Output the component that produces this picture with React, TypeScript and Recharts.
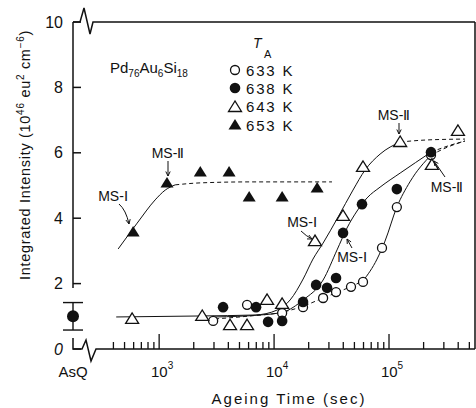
import React from 'react'
import { ComposedChart, XAxis, YAxis, Scatter, Line, ErrorBar } from 'recharts'

// axis ends (AsQ sits at the left end of the time axis)
const X_MIN = 178
const X_MAX = 560000

const majorTimes = [1e3, 1e4, 1e5]
const minorTimes = [
  400, 500, 600, 700, 800, 900,
  2000, 3000, 4000, 5000, 6000, 7000, 8000, 9000,
  20000, 30000, 40000, 50000, 60000, 70000, 80000, 90000,
  200000, 300000, 400000, 500000,
]
const yTicks = [0, 2, 4, 6, 8, 10]
const rightTicks = [2, 4, 6, 8]

// measured points, t in seconds
const k633 = [
  { t: 2950, v: 0.86 }, { t: 5820, v: 1.35 }, { t: 11750, v: 1.1 }, { t: 17860, v: 1.28 },
  { t: 26700, v: 1.56 }, { t: 34600, v: 1.74 }, { t: 46700, v: 1.9 }, { t: 59400, v: 2.05 },
  { t: 86900, v: 3.09 }, { t: 117000, v: 4.34 }, { t: 232000, v: 5.93 },
]
const k638 = [
  { t: 3600, v: 1.28 }, { t: 6970, v: 1.28 }, { t: 8870, v: 0.83 }, { t: 11750, v: 0.86 },
  { t: 17860, v: 1.44 }, { t: 23200, v: 1.96 }, { t: 28900, v: 1.87 }, { t: 34600, v: 2.17 },
  { t: 39800, v: 3.55 }, { t: 58200, v: 4.43 }, { t: 117000, v: 4.89 }, { t: 232000, v: 6.02 },
]
const k643 = [
  { t: 582, v: 0.92 }, { t: 2370, v: 1.01 }, { t: 4140, v: 0.73 }, { t: 5820, v: 0.73 },
  { t: 8690, v: 1.5 }, { t: 11750, v: 1.38 }, { t: 22700, v: 3.3 }, { t: 39800, v: 4.07 },
  { t: 59400, v: 5.57 }, { t: 125000, v: 6.33 }, { t: 236000, v: 5.63 }, { t: 398000, v: 6.67 },
]
const k653 = [
  { t: 594, v: 3.58 }, { t: 1170, v: 5.08 }, { t: 2280, v: 5.41 }, { t: 4060, v: 5.41 },
  { t: 6070, v: 4.65 }, { t: 11750, v: 4.65 }, { t: 23700, v: 4.92 },
]
const asQuenched = [{ t: X_MIN, v: 1.0, err: 0.42 }]

// guide curves
const fit643 = [
  { t: 423, v: 0.98 }, { t: 2280, v: 1.01 }, { t: 6840, v: 1.04 }, { t: 10600, v: 1.19 },
  { t: 13800, v: 1.5 }, { t: 17900, v: 2.14 }, { t: 21800, v: 2.75 }, { t: 26700, v: 3.24 },
  { t: 36100, v: 4.04 }, { t: 48600, v: 4.86 }, { t: 61800, v: 5.47 }, { t: 83600, v: 5.96 },
  { t: 125000, v: 6.33 },
]
const fit643Tail = [{ t: 125000, v: 6.33 }, { t: 206000, v: 6.39 }, { t: 458000, v: 6.42 }]
const fit638 = [
  { t: 3070, v: 0.98 }, { t: 7550, v: 1.04 }, { t: 11970, v: 1.13 }, { t: 17900, v: 1.5 },
  { t: 26700, v: 2.11 }, { t: 35300, v: 3.03 }, { t: 43100, v: 3.7 }, { t: 52700, v: 4.22 },
  { t: 64400, v: 4.62 }, { t: 83600, v: 4.95 }, { t: 125000, v: 5.38 }, { t: 232000, v: 6.02 },
]
const fit638Tail = [{ t: 232000, v: 6.02 }, { t: 326000, v: 6.21 }, { t: 458000, v: 6.36 }]
const fit633Low = [
  { t: 3070, v: 0.92 }, { t: 6180, v: 1.01 }, { t: 11970, v: 1.13 }, { t: 17900, v: 1.31 },
  { t: 26700, v: 1.56 }, { t: 41400, v: 1.83 }, { t: 59400, v: 2.08 },
]
const fit633 = [
  { t: 59400, v: 2.08 }, { t: 78700, v: 2.75 }, { t: 92300, v: 3.3 }, { t: 117000, v: 4.34 },
  { t: 152000, v: 5.11 }, { t: 232000, v: 5.93 },
]
const fit633Tail = [{ t: 232000, v: 5.93 }, { t: 326000, v: 6.18 }, { t: 458000, v: 6.36 }]
const fit653 = [
  { t: 440, v: 3.06 }, { t: 644, v: 3.85 }, { t: 923, v: 4.56 }, { t: 1130, v: 4.86 }, { t: 1380, v: 5.02 },
]
const fit653Tail = [{ t: 1380, v: 5.02 }, { t: 2280, v: 5.08 }, { t: 6180, v: 5.11 }, { t: 31900, v: 5.11 }]

const bottomTicks = [X_MIN, ...majorTimes, ...minorTimes].sort((a, b) => a - b)
const topTicks = [...majorTimes, ...minorTimes].sort((a, b) => a - b)

const FONT = '"Liberation Sans", Arial, Helvetica, sans-serif'
const INK = '#111'

const OpenCircle = (p: any) => <circle cx={p.cx} cy={p.cy} r={4.5} fill="#fff" stroke={INK} strokeWidth={1.3} />
const FilledCircle = (p: any) => <circle cx={p.cx} cy={p.cy} r={5.3} fill={INK} />
const BigCircle = (p: any) => <circle cx={p.cx} cy={p.cy} r={6} fill={INK} />
const tri = (cx: number, cy: number) => `${cx},${cy - 6} ${cx - 6.5},${cy + 4.5} ${cx + 6.5},${cy + 4.5}`
const OpenTriangle = (p: any) => <polygon points={tri(p.cx, p.cy)} fill="#fff" stroke={INK} strokeWidth={1.3} />
const FilledTriangle = (p: any) => <polygon points={tri(p.cx, p.cy)} fill={INK} />

const isMajor = (v: number) => majorTimes.includes(v)

// bottom axis: inward tick marks plus labels
const BottomTick = ({ x, y, payload }: any) => {
  const v = payload.value
  if (v === X_MIN) {
    return <text x={x} y={y + 28} textAnchor="middle" fontSize={15} fontFamily={FONT} fill={INK}>AsQ</text>
  }
  if (!isMajor(v)) return <line x1={x} x2={x} y1={y} y2={y - 7} stroke={INK} strokeWidth={1.3} />
  const exp = Math.round(Math.log10(v))
  return (
    <g>
      <line x1={x} x2={x} y1={y} y2={y - 15} stroke={INK} strokeWidth={1.3} />
      <text x={x + 3} y={y + 28} textAnchor="middle" fontSize={15} fontFamily={FONT} fill={INK}>
        10<tspan dy={-8} fontSize={10}>{exp}</tspan>
      </text>
    </g>
  )
}

const TopTick = ({ x, y, payload }: any) => (
  <line x1={x} x2={x} y1={y} y2={y + (isMajor(payload.value) ? 15 : 8)} stroke={INK} strokeWidth={1.3} />
)

const LeftTick = ({ x, y, payload }: any) => (
  <g>
    <line x1={x} x2={x + 8} y1={y} y2={y} stroke={INK} strokeWidth={1.5} />
    <text x={x - 10} y={y} dy={5.5} textAnchor="end" fontSize={16} fontFamily={FONT} fill={INK}
      fontStyle={payload.value === 0 ? 'italic' : 'normal'}>
      {payload.value}
    </text>
  </g>
)

const RightTick = ({ x, y }: any) => <line x1={x} x2={x - 9} y1={y} y2={y} stroke={INK} strokeWidth={1.5} />

function Arrow({ from, to, via }: { from: number[]; to: number[]; via?: number[] }) {
  const c = via || from
  const ang = Math.atan2(to[1] - c[1], to[0] - c[0])
  const h = 5
  const a1 = [to[0] - h * Math.cos(ang - 0.45), to[1] - h * Math.sin(ang - 0.45)]
  const a2 = [to[0] - h * Math.cos(ang + 0.45), to[1] - h * Math.sin(ang + 0.45)]
  const d = via
    ? `M${from[0]} ${from[1]} Q${via[0]} ${via[1]} ${to[0]} ${to[1]}`
    : `M${from[0]} ${from[1]} L${to[0]} ${to[1]}`
  return (
    <g stroke={INK} strokeWidth={1} fill="none">
      <path d={d} />
      <path d={`M${a1[0]} ${a1[1]} L${to[0]} ${to[1]} L${a2[0]} ${a2[1]}`} />
    </g>
  )
}

function Tag({ x, y, roman }: { x: number; y: number; roman: string }) {
  return (
    <text x={x} y={y} textAnchor="middle" fontSize={14} fontFamily={FONT} fill={INK}>
      MS-{roman}
    </text>
  )
}

export default function App() {
  const common = { xAxisId: 'b', yAxisId: 'l', isAnimationActive: false }
  const curve = { ...common, dataKey: 'v', type: 'monotone' as const, stroke: INK, strokeWidth: 1, dot: false, activeDot: false }
  const dashed = { ...curve, strokeDasharray: '4 3' }
  const logAxis = { type: 'number' as const, scale: 'log' as const, dataKey: 't', domain: [X_MIN, X_MAX], height: 1, interval: 0 as const, tickSize: 0, tickMargin: 0, tickLine: false, axisLine: false }

  return (
    <div style={{ position: 'absolute', left: 0, top: 0, width: 476, height: 408, background: '#fff' }}>
      <ComposedChart width={476} height={408} margin={{ top: 21, right: 0, bottom: 58, left: 72 }}>
        <XAxis xAxisId="b" {...logAxis} ticks={bottomTicks} tick={BottomTick} />
        <XAxis xAxisId="t" orientation="top" {...logAxis} ticks={topTicks} tick={TopTick} />
        <YAxis yAxisId="l" type="number" dataKey="v" domain={[0, 10]} ticks={yTicks} interval={0}
          width={1} axisLine={false} tickLine={false} tickSize={0} tickMargin={0} tick={LeftTick} />
        <YAxis yAxisId="r" orientation="right" type="number" domain={[0, 10]} ticks={rightTicks} interval={0}
          width={1} axisLine={{ stroke: INK, strokeWidth: 1.5 }} tickLine={false} tickSize={0} tickMargin={0} tick={RightTick} />

        <Line {...curve} data={fit653} />
        <Line {...dashed} data={fit653Tail} />
        <Line {...curve} data={fit643} />
        <Line {...dashed} data={fit643Tail} />
        <Line {...curve} data={fit638} />
        <Line {...dashed} data={fit638Tail} />
        <Line {...dashed} data={fit633Low} />
        <Line {...curve} data={fit633} />
        <Line {...dashed} data={fit633Tail} />

        <Scatter {...common} data={k633} dataKey="v" shape={OpenCircle} />
        <Scatter {...common} data={k638} dataKey="v" shape={FilledCircle} />
        <Scatter {...common} data={k643} dataKey="v" shape={OpenTriangle} />
        <Scatter {...common} data={k653} dataKey="v" shape={FilledTriangle} />
        <Scatter {...common} data={asQuenched} dataKey="v" shape={BigCircle}>
          <ErrorBar dataKey="err" direction="y" width={10} stroke={INK} strokeWidth={1.4} />
        </Scatter>
      </ComposedChart>

      <svg width={476} height={408} style={{ position: 'absolute', left: 0, top: 0, pointerEvents: 'none' }}>
        {/* broken axes */}
        <g stroke={INK} strokeWidth={1.5} fill="none">
          <path d="M73 22 V288" />
          <path d="M73 22 H80 L84 8 L90 34 L93 22 H475" />
          <path d="M73 338 V349 H82 L86 340 L91 361 L96 349 H475" />
        </g>

        {/* axis titles */}
        <text x={289} y={404} textAnchor="middle" fontSize={15} letterSpacing={2} fontFamily={FONT} fill={INK}>
          Ageing Time (sec)
        </text>
        <text transform="translate(30 155) rotate(-90)" textAnchor="middle" fontSize={14.5} letterSpacing={0.7} fontFamily={FONT} fill={INK}>
          Integrated Intensity (10<tspan dy={-6} fontSize={10}>46</tspan>
          <tspan dy={6}> eu</tspan><tspan dy={-6} fontSize={10}>2</tspan>
          <tspan dy={6}> cm</tspan><tspan dy={-6} fontSize={10}>−6</tspan>
          <tspan dy={6}>)</tspan>
        </text>

        {/* alloy */}
        <text x={110} y={73} fontSize={15} fontFamily={FONT} fill={INK}>
          Pd<tspan dy={4} fontSize={10}>76</tspan><tspan dy={-4}>Au</tspan><tspan dy={4} fontSize={10}>6</tspan>
          <tspan dy={-4}>Si</tspan><tspan dy={4} fontSize={10}>18</tspan>
        </text>

        {/* legend */}
        <text x={253} y={48} fontSize={14} fontStyle="italic" fontFamily={FONT} fill={INK}>T</text>
        <text x={264} y={58} fontSize={11} fontFamily={FONT} fill={INK}>A</text>
        <OpenCircle cx={235} cy={70} />
        <FilledCircle cx={235} cy={88} />
        <OpenTriangle cx={235} cy={107} />
        <FilledTriangle cx={235} cy={125} />
        {['633 K', '638 K', '643 K', '653 K'].map((s, i) => (
          <text key={s} x={246} y={[75.5, 93.5, 112, 130.5][i]} fontSize={15} letterSpacing={1.8} fontFamily={FONT} fill={INK}>{s}</text>
        ))}

        {/* stage labels */}
        <Tag x={113} y={201} roman="Ⅰ" />
        <Arrow from={[119, 204]} via={[126, 210]} to={[129, 224]} />
        <Tag x={168} y={158} roman="Ⅱ" />
        <Arrow from={[168, 161]} to={[168, 176]} />
        <Tag x={394} y={120} roman="Ⅱ" />
        <Arrow from={[399, 123]} to={[399, 134]} />
        <Tag x={447} y={192} roman="Ⅱ" />
        <Arrow from={[445, 177]} to={[434, 161]} />
        <Tag x={302} y={227} roman="Ⅰ" />
        <Arrow from={[301, 231]} via={[306, 236]} to={[312, 239]} />
        <Tag x={352} y={262} roman="Ⅰ" />
        <Arrow from={[352, 248]} to={[347, 239]} />
      </svg>
    </div>
  )
}
